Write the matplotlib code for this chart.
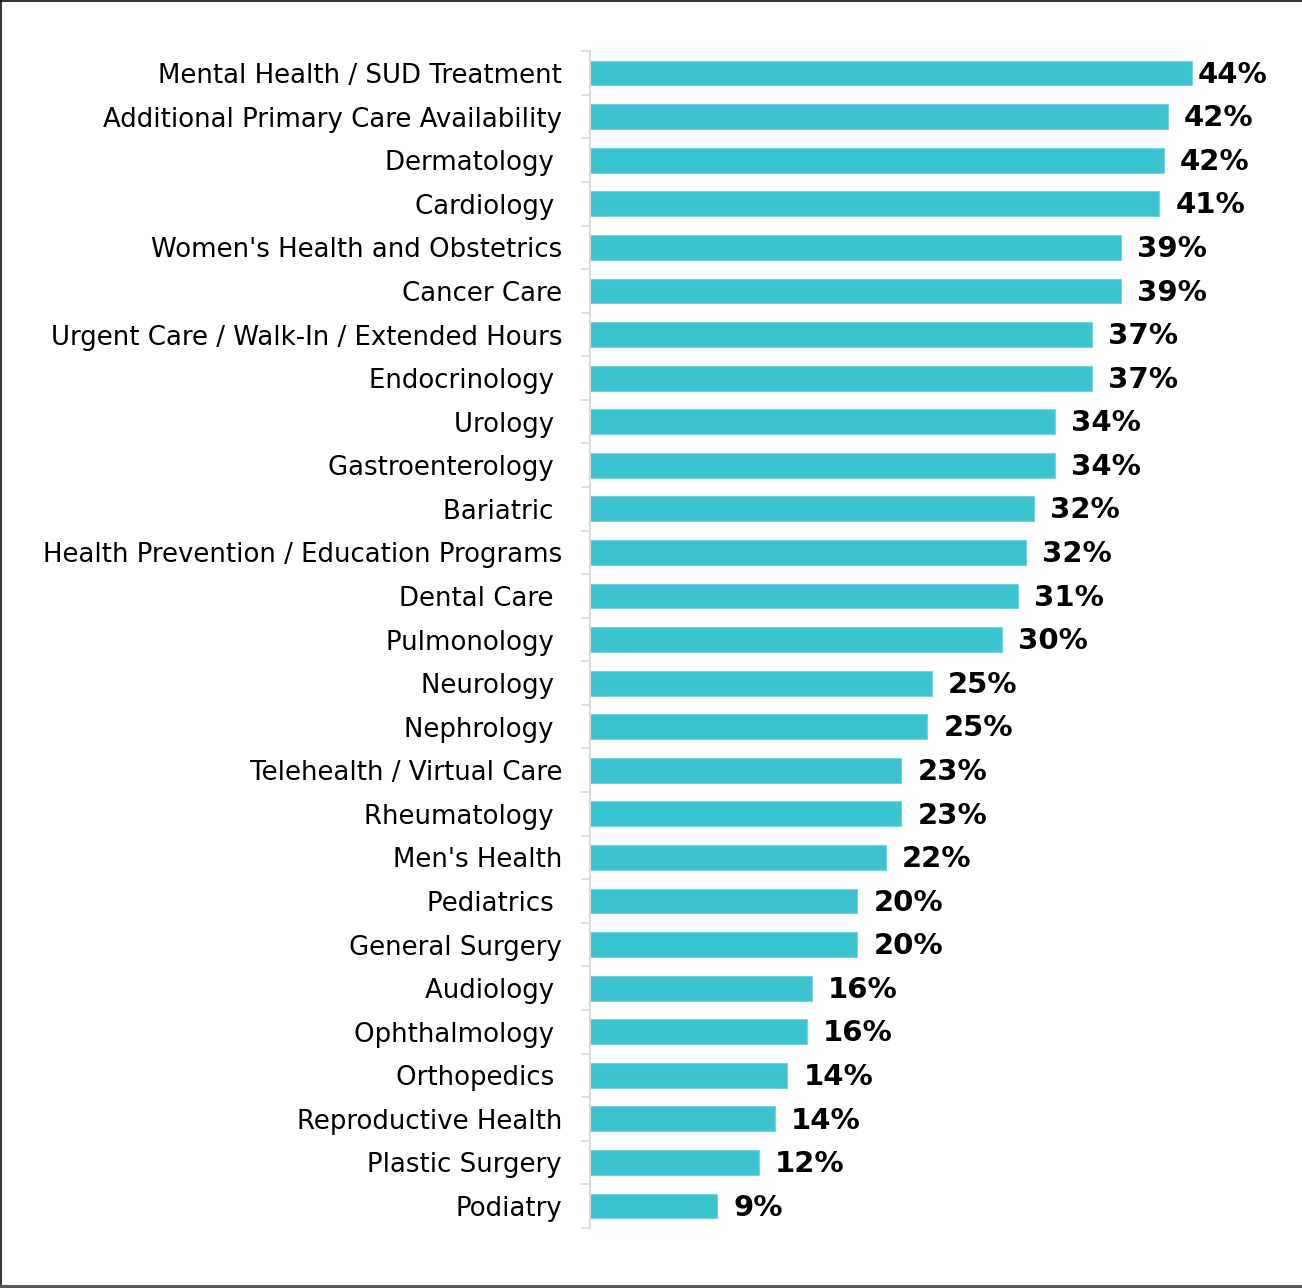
#Horizontal bar chart - share of respondents by service line
import matplotlib
matplotlib.use("Agg")
import matplotlib.pyplot as plt
from matplotlib.lines import Line2D

#---Data (top to bottom)---
Categories = ["Mental Health / SUD Treatment", "Additional Primary Care Availability",
              "Dermatology ", "Cardiology ", "Women's Health and Obstetrics", "Cancer Care",
              "Urgent Care / Walk-In / Extended Hours", "Endocrinology ", "Urology ",
              "Gastroenterology ", "Bariatric ", "Health Prevention / Education Programs",
              "Dental Care ", "Pulmonology ", "Neurology ", "Nephrology ",
              "Telehealth / Virtual Care", "Rheumatology ", "Men's Health", "Pediatrics ",
              "General Surgery", "Audiology ", "Ophthalmology ", "Orthopedics ",
              "Reproductive Health", "Plastic Surgery", "Podiatry"]
Values = [43.9, 42.1, 41.8, 41.5, 38.7, 38.7, 36.6, 36.6, 33.9, 33.9, 32.4, 31.8, 31.2,
          30.0, 24.9, 24.6, 22.7, 22.7, 21.6, 19.5, 19.5, 16.2, 15.8, 14.4, 13.5, 12.3, 9.3]
Labels = ["44%", "42%", "42%", "41%", "39%", "39%", "37%", "37%", "34%", "34%", "32%",
          "32%", "31%", "30%", "25%", "25%", "23%", "23%", "22%", "20%", "20%", "16%",
          "16%", "14%", "14%", "12%", "9%"]

#---Style---
BarColour = "#3CC3D0"
EdgeColour = "#78D5DE"
AxisColour = "#D9D9D9"
FontSize = 18.7
ValueSize = 21
XMax = 49.5

plt.rcParams['font.family'] = ['DejaVu Sans']

Fig = plt.figure(figsize=(13.02, 12.88), dpi=100)
Ax = Fig.add_axes([0.453, 0.0467, 0.9748 - 0.453, 0.9602 - 0.0467])

Pos = list(range(len(Categories)))
Ax.barh(Pos, Values, height=0.57, color=BarColour, edgecolor=EdgeColour, linewidth=0.8)
Ax.set_ylim(len(Categories) - 0.5, -0.5)
Ax.set_xlim(0, XMax)

Ax.set_yticks(Pos)
Ax.set_yticklabels(Categories, fontsize=FontSize)
Ax.set_yticks([p - 0.5 for p in range(len(Categories) + 1)], minor=True)
Ax.tick_params(axis='y', which='major', length=0, pad=20)
Ax.tick_params(axis='y', which='minor', length=6.5, width=1.2, color=AxisColour)
Ax.set_xticks([])

for Side in ["top", "right", "bottom"]:
    Ax.spines[Side].set_visible(False)
Ax.spines["left"].set_color(AxisColour)
Ax.spines["left"].set_linewidth(1.5)

Top = max(Values)
for P, V, L in zip(Pos, Values, Labels):
    Off = 3.6 if V == Top else 11.5 #largest label pulled in to stay in the plot area
    Ax.annotate(L, (V, P), xytext=(Off, -1.2), textcoords="offset points",
                ha="left", va="center", fontsize=ValueSize, fontweight="bold")

#Outer frame: top and left thin black, bottom grey, no right edge
Fig.add_artist(Line2D([0, 1], [0.9994, 0.9994], transform=Fig.transFigure,
                      color="#111111", linewidth=1.2))
Fig.add_artist(Line2D([0.0008, 0.0008], [0, 1], transform=Fig.transFigure,
                      color="#111111", linewidth=1.2))
Fig.add_artist(Line2D([0, 1], [0.0012, 0.0012], transform=Fig.transFigure,
                      color="#595959", linewidth=2.2))

Fig.savefig("out.png", dpi=100)
